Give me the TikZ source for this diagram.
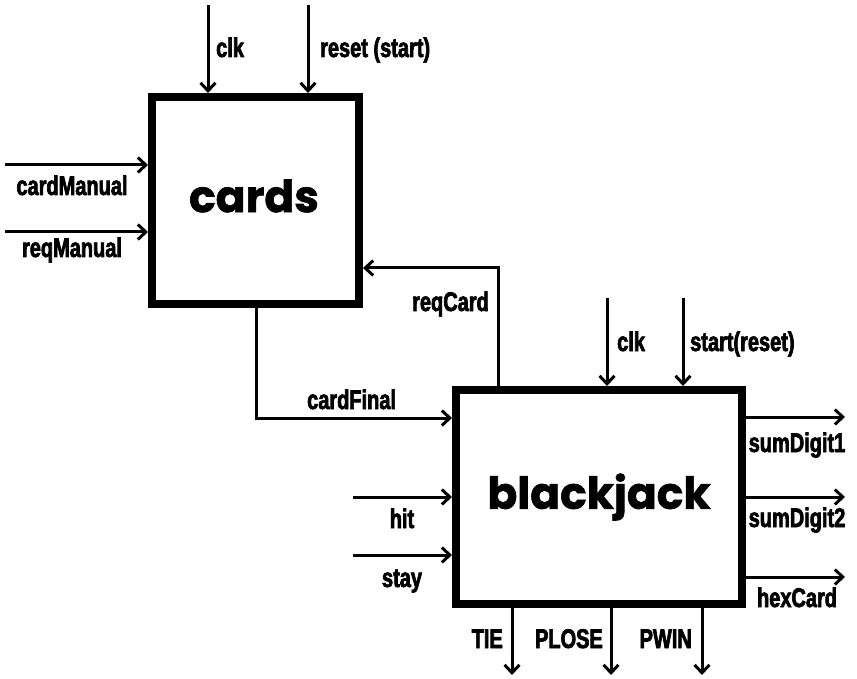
\documentclass[tikz,border=0pt]{standalone}
\usepackage{fontspec}
\usetikzlibrary{arrows.meta}
\newfontfamily\lblfont{Liberation Sans}[FakeStretch=0.74,FakeBold=2.5]
\newfontfamily\titlefont{Poppins}[FakeBold=1.5]
\tikzset{
  blk/.style={draw, line width=8pt, rectangle, inner sep=0pt},
  sig/.style={line width=3pt, -{Straight Barb[length=8pt,width=15pt]}},
  lbl/.style={inner sep=0pt, font=\lblfont\bfseries\fontsize{27}{27}\selectfont},
  ttl/.style={inner sep=0pt, font=\titlefont\bfseries\fontsize{44}{44}\selectfont},
}
\begin{document}
\begin{tikzpicture}[x=1pt,y=-1pt]
\useasboundingbox (0,0) rectangle (857,679);
% blocks
\node[blk, minimum width=207pt, minimum height=207pt] (cards) at (255.5,200.5) {};
\node[blk, minimum width=286pt, minimum height=214pt] (bj) at (599,497) {};
\node[ttl] (cardsT) at (254,196) {cards};
\node[ttl] (bjT) at (599,497) {blackjack};
% free ends
\coordinate (clkA) at (208,5);
\coordinate (rstA) at (308,5);
\coordinate (cmA) at (5,165);
\coordinate (rmA) at (5,232);
\coordinate (rqx) at (498,0);
\coordinate (rqy) at (0,268);
\coordinate (cfx) at (256,0);
\coordinate (cfy) at (0,418);
\coordinate (clkB) at (607,298);
\coordinate (stB) at (683,298);
\coordinate (hitA) at (353,497);
\coordinate (stayA) at (353,555);
\coordinate (sd1) at (845,417);
\coordinate (sd2) at (845,497);
\coordinate (hxc) at (845,577);
\coordinate (tie) at (512,675);
\coordinate (plose) at (611,675);
\coordinate (pwin) at (702,675);
% connectors
\draw[sig] (clkA) -- (clkA |- cards.north);
\draw[sig] (rstA) -- (rstA |- cards.north);
\draw[sig] (cmA) -- (cmA -| cards.west);
\draw[sig] (rmA) -- (rmA -| cards.west);
\draw[sig] (bj.north -| rqx) |- (cards.east |- rqy);
\draw[sig] (cards.south -| cfx) |- (bj.west |- cfy);
\draw[sig] (clkB) -- (clkB |- bj.north);
\draw[sig] (stB) -- (stB |- bj.north);
\draw[sig] (hitA) -- (hitA -| bj.west);
\draw[sig] (stayA) -- (stayA -| bj.west);
\draw[sig] (bj.east |- sd1) -- (sd1);
\draw[sig] (bj.east |- sd2) -- (sd2);
\draw[sig] (bj.east |- hxc) -- (hxc);
\draw[sig] (bj.south -| tie) -- (tie);
\draw[sig] (bj.south -| plose) -- (plose);
\draw[sig] (bj.south -| pwin) -- (pwin);
% labels
\node[lbl, anchor=base west] (lclk) at (216,57) {clk};
\node[lbl, anchor=base west] (lrst) at (320,57) {reset (start)};
\node[lbl, anchor=base] (lcm) at (72,195) {cardManual};
\node[lbl, anchor=base] (lrm) at (72,257) {reqManual};
\node[lbl, anchor=base east] (lrq) at (489,311) {reqCard};
\node[lbl, anchor=base west] (lcf) at (307,409) {cardFinal};
\node[lbl, anchor=base west] (lclkB) at (617,351) {clk};
\node[lbl, anchor=base west] (lstB) at (690,351) {start(reset)};
\node[lbl, anchor=base] (lhit) at (402,528) {hit};
\node[lbl, anchor=base] (lstay) at (402,587) {stay};
\node[lbl, anchor=base] (lsd1) at (797,452) {sumDigit1};
\node[lbl, anchor=base] (lsd2) at (797,527) {sumDigit2};
\node[lbl, anchor=base] (lhx) at (797,607) {hexCard};
\node[lbl, anchor=base east] (ltie) at (503,648) {TIE};
\node[lbl, anchor=base east] (lpl) at (603,648) {PLOSE};
\node[lbl, anchor=base east] (lpw) at (692,648) {PWIN};
\end{tikzpicture}
\end{document}
